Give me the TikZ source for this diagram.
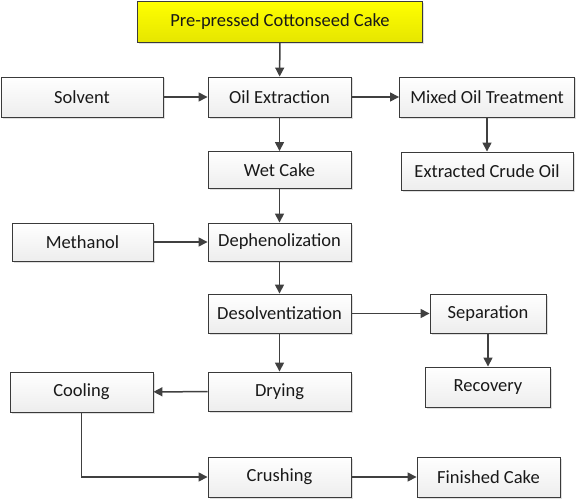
\documentclass[tikz,border=0pt]{standalone}
\usepackage{fontspec}
\setmainfont{Carlito}
\usetikzlibrary{arrows.meta,shadows}
\definecolor{edgec}{HTML}{404040}
\definecolor{boxline}{HTML}{3A3A3A}
\tikzset{
  pbox/.style={draw=boxline, line width=0.9pt, inner sep=0pt, top color=white, bottom color=gray!14,
    drop shadow={shadow xshift=1.5pt, shadow yshift=-1.5pt, opacity=0.25},
    font=\fontsize{18.5}{21}\selectfont, text=black!90},
  ybox/.style={pbox, top color=yellow, bottom color=yellow!90!black},
  conn/.style={draw=edgec, line width=1.5pt, -{Triangle[length=9pt,width=9pt]}}
}
\begin{document}
\begin{tikzpicture}[x=1pt,y=-1pt]
\useasboundingbox (0,0) rectangle (580,500);
\node[ybox, minimum width=285pt, minimum height=41pt] (top) at (280,22) {Pre-pressed Cottonseed Cake};
\node[pbox, minimum width=143pt, minimum height=40pt] (oil) at (279.5,97) {Oil Extraction};
\node[pbox, minimum width=162pt, minimum height=40pt] (solvent) at (82,97) {Solvent};
\node[pbox, minimum width=175pt, minimum height=40pt] (mixed) at (487,97) {Mixed Oil Treatment};
\node[pbox, minimum width=172pt, minimum height=38pt] (crude) at (487,171) {Extracted Crude Oil};
\node[pbox, minimum width=143pt, minimum height=37pt] (wet) at (279.5,170) {Wet Cake};
\node[pbox, minimum width=141pt, minimum height=38pt] (meth) at (82.5,242) {Methanol};
\node[pbox, minimum width=143pt, minimum height=38pt] (deph) at (279.5,242) {Dephenolization};
\node[pbox, minimum width=143pt, minimum height=39pt] (desol) at (279.5,313.5) {Desolventization};
\node[pbox, minimum width=116pt, minimum height=39pt] (sep) at (488,313.5) {Separation};
\node[pbox, minimum width=125pt, minimum height=40pt] (rec) at (488,387) {Recovery};
\node[pbox, minimum width=143pt, minimum height=39pt] (dry) at (279.5,391.5) {Drying};
\node[pbox, minimum width=143pt, minimum height=40pt] (cool) at (81.5,392) {Cooling};
\node[pbox, minimum width=143pt, minimum height=40pt] (crush) at (279.5,477) {Crushing};
\node[pbox, minimum width=143pt, minimum height=40pt] (fin) at (488.5,477) {Finished Cake};
\draw[conn] (top) -- (oil);
\draw[conn] (solvent) -- (oil);
\draw[conn] (oil) -- (mixed);
\draw[conn] (mixed) -- (crude);
\draw[conn] (oil) -- (wet);
\draw[conn] (wet) -- (deph);
\draw[conn] (meth) -- (deph);
\draw[conn] (deph) -- (desol);
\draw[conn] (desol) -- (sep);
\draw[conn] (sep) -- (rec);
\draw[conn] (desol) -- (dry);
\draw[conn] (dry) -- (cool);
\draw[conn] (cool.south) -- (cool.south |- crush.west) -- (crush.west);
\draw[conn] (crush) -- (fin);
\end{tikzpicture}
\end{document}
